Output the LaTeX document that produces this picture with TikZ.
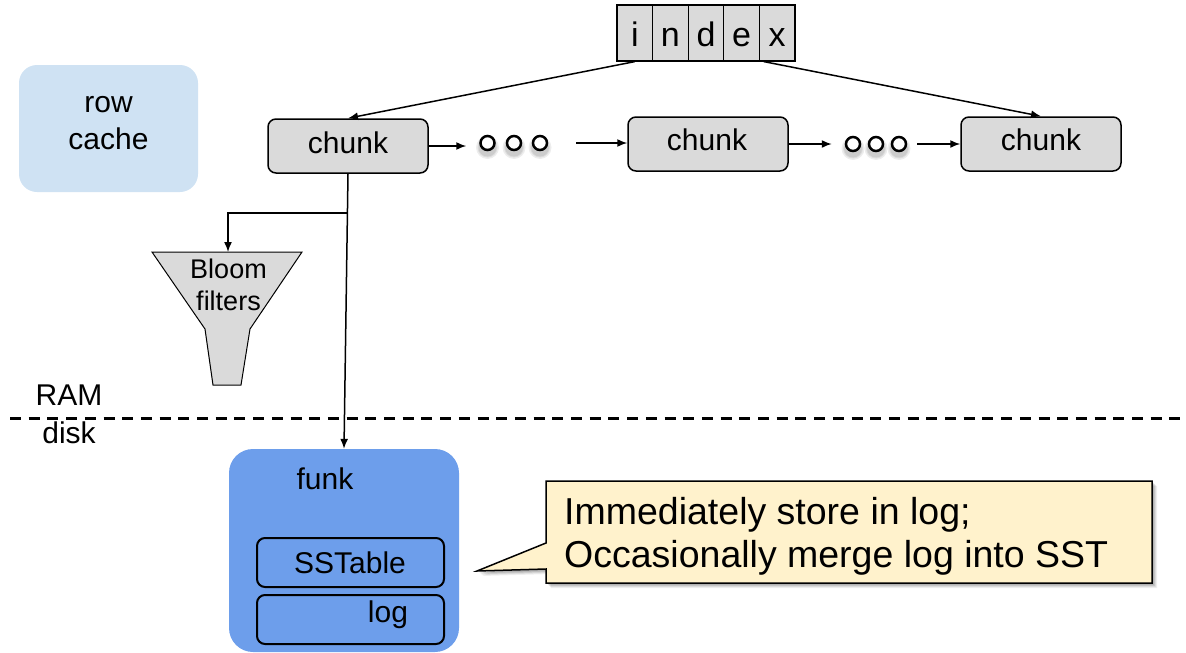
\documentclass[tikz,border=0pt]{standalone}
\usepackage{fontspec}
\setmainfont{Liberation Sans}
\usetikzlibrary{arrows.meta,calc}
\definecolor{chunkgray}{HTML}{DADADA}
\definecolor{cacheblue}{HTML}{CFE2F3}
\definecolor{funkblue}{HTML}{6D9EEB}
\definecolor{noteyellow}{HTML}{FFF2CC}

\begin{document}
\begin{tikzpicture}[x=1pt,y=-1pt,
  conn/.style={line width=1.5pt, -{Latex[length=10pt,width=8pt]}},
  lbl/.style={font=\fontsize{30}{36}\selectfont, inner sep=0pt, anchor=base},
  smalllbl/.style={font=\fontsize{27}{32}\selectfont, inner sep=0pt, anchor=base},
  idxbox/.style={draw, line width=1.2pt, fill=chunkgray, minimum width=35.6pt, minimum height=56pt, inner sep=0pt},
  chunkbox/.style={draw, line width=1.5pt, fill=chunkgray, rounded corners=8pt, minimum width=160pt, minimum height=54pt, inner sep=0pt},
  dot/.style={circle, draw, line width=2.5pt, fill=white, minimum size=14pt, inner sep=0pt},
  storebox/.style={draw, line width=2pt, rounded corners=8pt, minimum width=187pt, minimum height=49pt, inner sep=0pt},
  notetext/.style={font=\fontsize{37.5}{43}\selectfont, inner sep=0pt, anchor=base west}]

\useasboundingbox (0,0) rectangle (1186,653);

% row cache
\node[fill=cacheblue, rounded corners=18pt, minimum width=179pt, minimum height=127pt, inner sep=0pt] (rowcache) at (108.5,128.5) {};
\node[lbl] (rowtxt) at (108.5,112) {row};
\node[lbl] (cachetxt) at (108.5,149) {cache};

% index
\foreach \c [count=\i] in {i,n,d,e,x} {
  \node[idxbox] (idx\i) at ({617+17.8+35.6*(\i-1)},33) {};
  \node[lbl, font=\fontsize{34}{40}\selectfont] at (idx\i |- 0,46) {\c};
}

% chunks
\node[chunkbox] (chunk1) at (348,146) {};
\node[lbl] at (348,153) {chunk};
\node[chunkbox] (chunk2) at (708,144) {};
\node[lbl] at (707,150) {chunk};
\node[chunkbox] (chunk3) at (1041,144) {};
\node[lbl] at (1041,150) {chunk};

% ellipsis dots with soft shadows
\foreach \x/\y [count=\k] in {487.5/143, 514/143, 540/143, 853/144, 876/144, 899/144} {
  \foreach \r in {11.5,10,9} {
    \fill[black, opacity=0.07] (\x,\y+4.5) circle (\r);
  }
  \node[dot] (d\k) at (\x,\y) {};
}

% index pointers
\draw[conn] (idx1.south) -- (chunk1.north);
\draw[conn] ($(idx5.south west)+(5,0)$) -- (chunk3.north);

% chain arrows
\draw[conn, shorten >=13pt] (chunk1.east) -- (chunk1.east -| d1.west);
\draw[conn, shorten <=28pt] (d3.east) -- (chunk2.west |- d3.east);
\draw[conn, shorten >=13pt] (chunk2.east) -- (chunk2.east -| d4.west);
\draw[conn, shorten <=10pt] (d6.east) -- (chunk3.west |- d6.east);

% bloom filter funnel
\draw[line width=1pt, fill=chunkgray] (152,252) -- (302,252) -- (250,329) -- (241,385) -- (213,385) -- (205,329) -- cycle;
\coordinate (bftop) at (228,252);
\node[smalllbl] (bloomtxt) at (228.5,278) {Bloom};
\node[smalllbl] (filterstxt) at (228.5,310) {filters};

% funk (on disk)
\node[fill=funkblue, rounded corners=24pt, minimum width=230pt, minimum height=203pt, inner sep=0pt] (funk) at (344,550.5) {};
\node[lbl] at (325,489) {funk};
\node[storebox] (sstable) at (350.5,562.5) {};
\node[lbl] at (350,573) {SSTable};
\node[storebox] (logbox) at (350.5,619.5) {};
\node[lbl] at (388,622) {log};

% chunk to bloom filters and to funk
\draw[conn] (chunk1.south) -- (funk.north);
\coordinate (split) at ($(chunk1.south)!0.142!(funk.north)$);
\draw[conn] (split) -| (bftop);

% RAM / disk boundary
\coordinate (memL) at (10,418);
\coordinate (memR) at (1186,418);
\draw[line width=3pt, dash pattern=on 11pt off 7.7pt] (memL) -- (memR);
\node[lbl] at (69,405) {RAM};
\node[lbl] at (69,443) {disk};

% callout note with shadow
\foreach \s/\o in {5/0.06,4/0.08,3/0.10,2/0.10} {
  \fill[black, opacity=\o, shift={(\s,\s)}] (546,481) -- (1152,481) -- (1152,583) -- (546,583) -- (546,569) -- (477,571) -- (546,543) -- cycle;
}
\draw[line width=1.5pt, fill=noteyellow] (546,481) -- (1152,481) -- (1152,583) -- (546,583) -- (546,569) -- (477,571) -- (546,543) -- cycle;
\node[notetext] (note1) at (564,524) {Immediately store in log;};
\node[notetext] (note2) at (564,567) {Occasionally merge log into SST};

\end{tikzpicture}
\end{document}
